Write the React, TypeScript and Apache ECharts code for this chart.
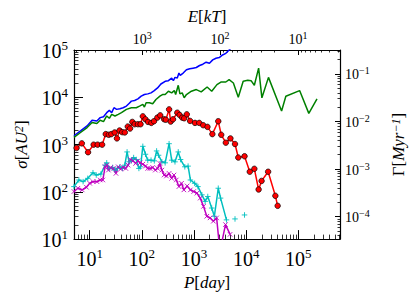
import React, { useEffect, useRef } from "react";
import * as echarts from "echarts";

// ---- data ----
const blueP = [4.99, 6.67, 8.91, 11.1, 13.7, 15.9, 18.4, 21.2, 23.8, 26.4, 29.2, 32.8, 37.9, 43.8, 50.6, 56.9, 63.0, 72.7, 84.1, 97.1, 112, 130, 150, 173, 200, 232, 280, 323, 373, 402, 432, 478, 514, 544, 620, 716, 828, 957, 1107, 1279, 1479, 1710, 1977, 2282, 2638, 3048, 3524, 4074, 4508, 5445];
const blueSigma = [1535, 1950, 2483, 3266, 3162, 3707, 3890, 4721, 5284, 4721, 6008, 5543, 5723, 6008, 6511, 7410, 8285, 8555, 9270, 10540, 11430, 11800, 12390, 13860, 15760, 19100, 21730, 22440, 25510, 22440, 26360, 25510, 32480, 29040, 32480, 38110, 39990, 41300, 42660, 46990, 50120, 55190, 52600, 61770, 66930, 69110, 78550, 85170, 95300, 117400];

const greenP = [4.99, 6.67, 8.91, 11.1, 13.7, 15.9, 18.4, 21.2, 23.8, 26.4, 30.5, 35.3, 40.7, 50.6, 63.0, 78.2, 90.4, 104.4, 112, 120.7, 139.5, 161.3, 186.4, 221.8, 249, 280, 323, 373, 419.5, 444.6, 499, 537, 594, 648, 716, 891, 1107, 1375, 1785, 2186, 2754, 3280, 4074, 4710, 5690, 7063, 8770, 10750, 12420, 14360, 17340, 20040, 26790, 47780, 57680, 105900, 158900, 228200];
const greenSigma = [1416, 1800, 2291, 2917, 2780, 3266, 3060, 4018, 3594, 4355, 4018, 4355, 4721, 5543, 6008, 6008, 6511, 7063, 6206, 7646, 7646, 7288, 8977, 10540, 11430, 11430, 13420, 12390, 13860, 11430, 17920, 11800, 12390, 9730, 11430, 13420, 14550, 13000, 16530, 13420, 18500, 21040, 21040, 23550, 20050, 10050, 21730, 22800, 22440, 17920, 41300, 9730, 26360, 5117, 10540, 13860, 4570, 9270];

const redP = [5.6, 7.06, 9.3, 11.9, 14.2, 17.3, 20.3, 23.2, 26.0, 30.1, 33.3, 37.4, 42.0, 47.1, 53.7, 59.4, 65.7, 72.7, 84.1, 94.4, 104.4, 117.3, 131.6, 152, 171, 198, 225, 268, 288, 333, 357, 396, 478, 529, 594, 648, 727, 841, 1045, 1261, 1500, 1811, 2249, 2918, 3327, 4074, 4990, 6110, 7063, 9310, 11730, 14360, 17340, 19760, 26380, 36300, 40160];
const redSigma = [846, 1059, 687, 994, 994, 994, 1663, 1610, 1663, 1800, 1349, 1983, 1828, 1800, 2404, 2183, 3010, 2690, 2690, 2690, 3955, 3423, 3010, 2870, 3110, 3710, 4150, 3423, 3350, 5540, 3060, 3423, 4720, 4220, 3710, 3595, 4360, 3160, 2870, 2870, 2565, 2365, 1663, 3110, 1610, 1094, 1349, 1026, 531, 566, 266, 307, 112, 170, 266, 82.4, 50.6];

const cyanP = [4.99, 6.2, 7.48, 9.17, 11.56, 13.36, 16.36, 19.75, 21.2, 23.84, 27.56, 30.5, 33.76, 37.88, 42.55, 47.1, 52.12, 56.85, 62.9, 69.6, 78.2, 87.8, 94.4, 104.4, 117.3, 129.8, 150.0, 173.4, 191.9, 209.4, 241.9, 279.7, 332.7, 373.5, 431.8, 499, 552.4, 666.6, 770.6, 852.8, 1029, 1190, 1416, 1636, 1837, 2185, 2454, 2919, 3232, 4194, 5062, 6113, 7593, 9303];
const cyanSigma: (number | null)[] = [129.1, 178.1, 164.3, 192.9, 253.5, 226.6, 237.8, 366.8, 410.7, 307.5, 327.9, 288.4, 312.5, 338.6, 312.5, 366.8, 697.9, 430.9, 452.2, 530.9, 482.3, 312.5, 338.6, 916.9, 623.4, 467.0, 467.0, 452.2, 732.1, 594.0, 430.9, 410.7, 1042, 467.0, 430.9, 697.9, 482.3, 338.6, 349.5, 178.1, 151.6, 129.1, 86.4, 62.7, 79.7, 45.4, 30.4, 119.1, 73.6, 25.5, null, 26.7, null, 32.4];

const magentaP = [4.99, 5.94, 7.17, 8.65, 10.0, 11.56, 13.75, 15.9, 17.85, 19.75, 21.2, 22.83, 25.26, 28.37, 31.85, 35.26, 39.0, 43.8, 49.2, 54.4, 60.2, 67.6, 75.9, 84.0, 93.0, 104.4, 117.3, 129.8, 143.6, 161.3, 181.1, 200.4, 221.8, 241.9, 267.7, 296.2, 332.7, 373.5, 413.4, 457.5, 513.6, 576.8, 638.3, 737.8, 852.8, 985.6, 1139, 1317, 1522, 1759, 2033, 2350, 2716, 3140, 4017, 4918];
const magentaSigma = [101.5, 119.1, 109.9, 125.0, 151.6, 164.3, 164.3, 178.1, 178.1, 338.6, 366.8, 288.4, 327.9, 312.5, 245.6, 338.6, 302.6, 327.9, 312.5, 366.8, 482.3, 452.2, 397.7, 452.2, 410.7, 385.1, 349.5, 312.5, 312.5, 327.9, 288.4, 312.5, 397.7, 288.4, 226.6, 215.9, 245.6, 192.9, 226.6, 178.1, 129.1, 151.6, 109.9, 133.3, 109.9, 101.5, 93.6, 73.6, 49.2, 30.4, 28.1, 23.9, 28.1, 5.5, 20.3, 12.6];

// ---- axes ----
const pRange = [5, 630000];
const eRange = [2.89, 7516];
const sigmaRange = [10, 100000];
const gammaRange = [3.39e-5, 0.316];
const pTicks = [10, 100, 1000, 10000, 100000];
const eTicks = [10, 100, 1000];
const sigmaTicks = [10, 100, 1000, 10000, 100000];
const gammaTicks = [1e-4, 1e-3, 1e-2, 1e-1];

const SERIF = "'Liberation Serif', 'DejaVu Serif', serif";

function minors(lo: number, hi: number): number[] {
  const out: number[] = [];
  for (let n = -6; n <= 6; n++) {
    for (let k = 2; k <= 9; k++) {
      const v = k * Math.pow(10, n);
      if (v > lo * 1.0001 && v < hi * 0.9999) out.push(Number(v.toPrecision(6)));
    }
  }
  return out;
}

function powLabel(v: number) {
  const e = Math.round(Math.log10(v));
  const s = e < 0 ? "\u2212" + Math.abs(e) : String(e);
  return `{b|10}{e|${s}}`;
}

function richBig(size: number, esize: number) {
  return {
    b: { fontSize: size, fontFamily: SERIF, color: "#000", lineHeight: size + 2, verticalAlign: "bottom" },
    e: { fontSize: esize, fontFamily: SERIF, color: "#000", lineHeight: esize, verticalAlign: "top" },
  };
}

const nameRich = {
  i: { fontSize: 17, fontFamily: SERIF, fontStyle: "italic", color: "#000" },
  r: { fontSize: 17, fontFamily: SERIF, color: "#000" },
  s: { fontSize: 12, fontFamily: SERIF, fontStyle: "italic", color: "#000", verticalAlign: "top", lineHeight: 12 },
};

function pairs(xs: number[], ys: (number | null)[]) {
  return xs.map((x, i) => [x, ys[i] === null ? "-" : ys[i]]);
}

export default function App() {
  const ref = useRef<HTMLDivElement>(null);
  useEffect(() => {
    if (!ref.current) return;
    const chart = echarts.init(ref.current, undefined, { renderer: "svg" });
    const axisLine = { show: true, lineStyle: { color: "#000", width: 1.2 } };
    const majorAxis = (extra: any, ticks: number[], len: number, size: number, esize: number, margin: number) => ({
      type: "log",
      logBase: 10,
      axisLine,
      splitLine: { show: false },
      axisTick: { show: true, inside: true, length: len, customValues: ticks, lineStyle: { color: "#000", width: 1 } },
      axisLabel: {
        show: true,
        customValues: ticks,
        margin,
        formatter: (v: number) => powLabel(v),
        rich: richBig(size, esize),
        hideOverlap: false,
      },
      ...extra,
    });
    const minorAxis = (extra: any, ticks: number[], len: number) => ({
      type: "log",
      logBase: 10,
      axisLine: { show: false },
      splitLine: { show: false },
      axisTick: { show: true, inside: true, length: len, customValues: ticks, lineStyle: { color: "#000", width: 0.8 } },
      axisLabel: { show: false },
      ...extra,
    });

    chart.setOption({
      animation: false,
      backgroundColor: "#fff",
      grid: { left: 74, right: 71, top: 50, bottom: 55, containLabel: false },
      xAxis: [
        majorAxis(
          {
            position: "bottom", min: pRange[0], max: pRange[1],
            name: "{i|P}{r|[}{i|day}{r|]}", nameLocation: "middle", nameGap: 32,
            nameTextStyle: { rich: nameRich },
          },
          pTicks, 9, 20, 13, 8
        ),
        minorAxis({ position: "bottom", min: pRange[0], max: pRange[1], offset: 0 }, minors(pRange[0], pRange[1]), 4.5),
        majorAxis(
          {
            position: "top", inverse: true, min: eRange[0], max: eRange[1],
            name: "{i|E}{r|[}{i|kT}{r|]}", nameLocation: "middle", nameGap: 24,
            nameTextStyle: { rich: nameRich },
          },
          eTicks, 5, 14, 10, 4
        ),
        minorAxis({ position: "top", inverse: true, min: eRange[0], max: eRange[1], offset: 0 }, minors(eRange[0], eRange[1]), 2.5),
      ],
      yAxis: [
        majorAxis(
          {
            position: "left", min: sigmaRange[0], max: sigmaRange[1],
            name: "{i|σ}{r|[}{i|AU}{s|2}{r|]}", nameLocation: "middle", nameGap: 44, nameRotate: 90,
            nameTextStyle: { rich: nameRich },
          },
          sigmaTicks, 9, 20, 13, 6
        ),
        minorAxis({ position: "left", min: sigmaRange[0], max: sigmaRange[1], offset: 0 }, minors(sigmaRange[0], sigmaRange[1]), 4.5),
        majorAxis(
          {
            position: "right", min: gammaRange[0], max: gammaRange[1],
            name: "{r|Γ[}{i|Myr}{s|−1}{r|]}", nameLocation: "middle", nameGap: 50, nameRotate: 90,
            nameTextStyle: { rich: nameRich },
          },
          gammaTicks, 5, 14, 10, 5
        ),
        minorAxis({ position: "right", min: gammaRange[0], max: gammaRange[1], offset: 0 }, minors(gammaRange[0], gammaRange[1]), 2.5),
      ],
      series: [
        {
          type: "line", data: pairs(blueP, blueSigma), xAxisIndex: 0, yAxisIndex: 0,
          showSymbol: false, lineStyle: { color: "#0000ff", width: 1.5 }, itemStyle: { color: "#0000ff" }, clip: true,
        },
        {
          type: "line", data: pairs(greenP, greenSigma), xAxisIndex: 0, yAxisIndex: 0,
          showSymbol: false, lineStyle: { color: "#008000", width: 1.5 }, itemStyle: { color: "#008000" }, clip: true,
        },
        {
          type: "line", data: pairs(redP, redSigma), xAxisIndex: 0, yAxisIndex: 0,
          symbol: "circle", symbolSize: 5.5, showSymbol: true,
          lineStyle: { color: "#ff0000", width: 1.5 },
          itemStyle: { color: "#ff0000", borderColor: "#000", borderWidth: 0.7 }, clip: true,
        },
        {
          type: "line", data: pairs(cyanP, cyanSigma), xAxisIndex: 0, yAxisIndex: 0,
          symbol: "path://M5,0L5,10M0,5L10,5", symbolSize: 5.5, showSymbol: true, connectNulls: false,
          lineStyle: { color: "#00bfbf", width: 1.5 },
          itemStyle: { color: "#00bfbf", borderColor: "#00bfbf", borderWidth: 0.9 }, clip: true,
        },
        {
          type: "line", data: pairs(magentaP, magentaSigma), xAxisIndex: 0, yAxisIndex: 0,
          symbol: "path://M0,0L10,10M10,0L0,10", symbolSize: 4.5, showSymbol: true,
          lineStyle: { color: "#bf00bf", width: 1.5 },
          itemStyle: { color: "#bf00bf", borderColor: "#bf00bf", borderWidth: 0.9 }, clip: true,
        },
      ],
    });
    return () => chart.dispose();
  }, []);
  return <div ref={ref} style={{ position: "fixed", left: 0, top: 0, width: 415, height: 296, background: "#fff" }} />;
}
